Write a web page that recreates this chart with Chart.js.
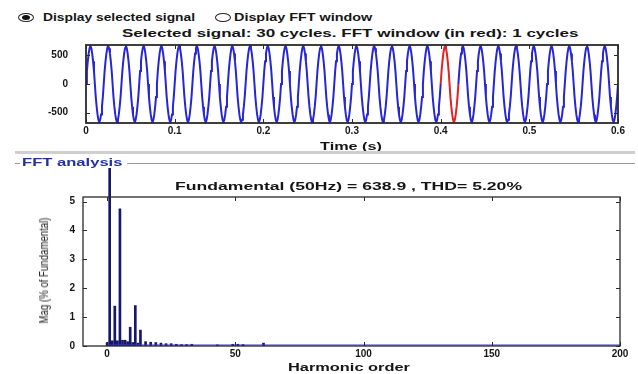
<!DOCTYPE html>
<html>
<head>
<meta charset="utf-8">
<script src="https://cdn.jsdelivr.net/npm/chart.js@4.4.1/dist/chart.umd.min.js"></script>
<style>
  body { margin: 0; width: 638px; height: 374px; background: #fff; position: relative; overflow: hidden;
         font-family: Arial, "Liberation Sans", sans-serif; }
  canvas { position: absolute; left: 0; }
  .lbl { position: absolute; white-space: nowrap; font-weight: bold; font-size: 11px; line-height: 13px;
         color: #151515; transform-origin: 0 50%; }
  .radio { position: absolute; top: 13px; width: 14px; height: 7px; border: 1px solid #222; border-radius: 50%; background: #fff; }
  .radio.on::after { content: ''; position: absolute; left: 3px; top: 1px; width: 8px; height: 5px; border-radius: 50%; background: #111; }
  .rule { position: absolute; }
</style>
</head>
<body>

<div class="radio on" style="left:18px"></div>
<span class="lbl" style="font-size:10px" data-x="43" data-y="17" data-w="152">Display selected signal</span>
<div class="radio" style="left:215px"></div>
<span class="lbl" style="font-size:10px" data-x="234" data-y="17" data-w="138">Display FFT window</span>

<span class="lbl" data-x="122" data-y="33" data-w="456">Selected signal: 30 cycles. FFT window (in red): 1 cycles</span>
<canvas id="signalChart" width="638" height="155" style="top:0"></canvas>
<span class="lbl" data-x="320" data-y="146" data-w="62">Time (s)</span>

<div class="rule" style="left:15px; top:151px; width:620px; height:3px; background:#cfcfcf"></div>
<div class="rule" style="left:15px; top:163px; width:5px; height:1px; background:#999"></div>
<div class="rule" style="left:127px; top:163px; width:508px; height:1px; background:#999"></div>
<span class="lbl" style="color:#2233a0" data-x="22" data-y="162" data-w="101">FFT analysis</span>

<canvas id="fftChart" width="638" height="224" style="top:150px"></canvas>
<span class="lbl" data-x="175" data-y="186" data-w="347">Fundamental (50Hz) = 638.9 , THD= 5.20%</span>
<span class="lbl" data-x="288" data-y="367" data-w="122">Harmonic order</span>
<span class="lbl" id="magTitle" style="font-weight:normal; font-size:13px; line-height:15px; color:#222">Mag (% of Fundamental)</span>

<script>
// one period of the measured signal, 1 ms per sample
const cycleSamples = [0, 225, 395, 530, 625, 668, 625, 530, 395, 225,
                      0, -225, -395, -530, -625, -668, -625, -530, -395, -225];
const samplePeriod = 0.001;
const cycleCount = 30;
const fftWindow = [0.4, 0.42];
const timeTicks = [0, 0.1, 0.2, 0.3, 0.4, 0.5, 0.6];
const signalTicks = [-500, 0, 500];

// harmonic spectrum, % of fundamental
const harmonicOrder = [0, 1, 2, 3, 4, 5, 6, 7, 8, 9, 10, 11, 12, 13,
                       15, 17, 19, 21, 23, 25, 27, 29, 31, 33, 43, 49, 51, 53, 61];
const harmonicMag = [0.12, 100, 0.18, 1.38, 0.18, 4.75, 0.2, 0.2, 0.15, 0.65, 0.12, 1.4, 0.1, 0.55,
                     0.15, 0.13, 0.12, 0.1, 0.08, 0.08, 0.06, 0.05, 0.05, 0.06, 0.04, 0.06, 0.06, 0.05, 0.1];
const orderTicks = [0, 50, 100, 150, 200];
const magTicks = [0, 1, 2, 3, 4, 5];

Chart.defaults.font.family = 'Arial, "Liberation Sans", sans-serif';
Chart.defaults.color = '#151515';

// stretch each label to its slot width
document.querySelectorAll('.lbl[data-w]').forEach(el => {
  const w = el.offsetWidth, h = el.offsetHeight;
  el.style.left = el.dataset.x + 'px';
  el.style.top = (el.dataset.y - h / 2) + 'px';
  el.style.transform = 'scaleX(' + (el.dataset.w / w) + ')';
});
const mag = document.getElementById('magTitle');
{
  const w = mag.offsetWidth, h = mag.offsetHeight;
  mag.style.transformOrigin = '50% 50%';
  mag.style.left = (43 - w / 2) + 'px';
  mag.style.top = (270 - h / 2) + 'px';
  mag.style.transform = 'rotate(-90deg) scaleX(' + (106 / w) + ')';
}

const signalPoints = [];
for (let c = 0; c < cycleCount; c++) {
  cycleSamples.forEach((v, k) => {
    signalPoints.push({ x: (c * cycleSamples.length + k) * samplePeriod, y: v });
  });
}
signalPoints.push({ x: cycleCount * cycleSamples.length * samplePeriod, y: cycleSamples[0] });

// box round the plot area with inward tick marks on all four sides
const axesFrame = {
  id: 'axesFrame',
  afterDraw(chart, args, opts) {
    const { ctx, chartArea: a, scales: { x, y } } = chart;
    ctx.save();
    if (opts.baseline) {
      const y0 = Math.round(y.getPixelForValue(0)) - 1;
      ctx.strokeStyle = opts.baseline;
      ctx.lineWidth = 1.2;
      ctx.beginPath();
      ctx.moveTo(x.getPixelForValue(0), y0);
      ctx.lineTo(a.right, y0);
      ctx.stroke();
    }
    ctx.strokeStyle = '#2a2a2a';
    ctx.lineWidth = opts.width || 1.3;
    ctx.strokeRect(a.left, a.top, a.width, a.height);
    ctx.lineWidth = 1;
    ctx.beginPath();
    x.ticks.forEach(t => {
      const px = Math.round(x.getPixelForValue(t.value)) + 0.5;
      ctx.moveTo(px, a.bottom); ctx.lineTo(px, a.bottom - 4);
      ctx.moveTo(px, a.top); ctx.lineTo(px, a.top + 4);
    });
    y.ticks.forEach(t => {
      const py = Math.round(y.getPixelForValue(t.value)) + 0.5;
      ctx.moveTo(a.left, py); ctx.lineTo(a.left + 4, py);
      ctx.moveTo(a.right, py); ctx.lineTo(a.right - 4, py);
    });
    ctx.stroke();
    ctx.restore();
  }
};

const tickFont = { size: 10, weight: 'bold' };

new Chart(document.getElementById('signalChart'), {
  type: 'line',
  data: {
    datasets: [{
      data: signalPoints,
      borderColor: '#2626d8',
      borderWidth: 2,
      pointRadius: 0,
      tension: 0,
      segment: {
        borderColor: ctx => (ctx.p0.parsed.x >= fftWindow[0] - 1e-9 && ctx.p1.parsed.x <= fftWindow[1] + 1e-9)
          ? '#e52222' : undefined
      }
    }]
  },
  options: {
    responsive: false,
    animation: false,
    events: [],
    layout: { padding: { top: 45, right: 20, bottom: 0, left: 0 } },
    plugins: { legend: { display: false }, tooltip: { enabled: false }, axesFrame: { width: 1.8 } },
    scales: {
      x: {
        type: 'linear', min: 0, max: 0.6,
        afterFit: s => { s.height = 32; },
        afterBuildTicks: s => { s.ticks = timeTicks.map(v => ({ value: v })); },
        grid: { display: false, drawTicks: false },
        border: { display: false },
        ticks: { padding: 2, font: tickFont, maxRotation: 0, autoSkip: false,
                 callback: v => v === 0 ? '0' : v.toFixed(1) }
      },
      y: {
        min: -680, max: 680,
        afterFit: s => { s.width = 86; },
        afterBuildTicks: s => { s.ticks = signalTicks.map(v => ({ value: v })); },
        grid: { display: false, drawTicks: false },
        border: { display: false },
        ticks: { padding: 18, font: tickFont }
      }
    }
  },
  plugins: [axesFrame]
});

new Chart(document.getElementById('fftChart'), {
  type: 'bar',
  data: {
    datasets: [{
      data: harmonicOrder.map((h, i) => ({ x: h, y: harmonicMag[i] })),
      backgroundColor: '#16166e',
      barThickness: 2,
      clip: { left: 0, top: 29, right: 0, bottom: 0 }
    }]
  },
  options: {
    responsive: false,
    animation: false,
    events: [],
    layout: { padding: { top: 47, right: 18, bottom: 0, left: 0 } },
    plugins: { legend: { display: false }, tooltip: { enabled: false }, axesFrame: { width: 1.3, baseline: '#3b3bc0' } },
    scales: {
      x: {
        type: 'linear', min: -9.4, max: 200, offset: false,
        afterFit: s => { s.height = 28; },
        afterBuildTicks: s => { s.ticks = orderTicks.map(v => ({ value: v })); },
        grid: { display: false, drawTicks: false, offset: false },
        border: { display: false },
        ticks: { padding: 2, font: tickFont, maxRotation: 0, autoSkip: false }
      },
      y: {
        min: 0, max: 5.16,
        afterFit: s => { s.width = 83; },
        afterBuildTicks: s => { s.ticks = magTicks.map(v => ({ value: v })); },
        grid: { display: false, drawTicks: false },
        border: { display: false },
        ticks: { padding: 8, font: tickFont }
      }
    }
  },
  plugins: [axesFrame]
});
</script>
</body>
</html>
